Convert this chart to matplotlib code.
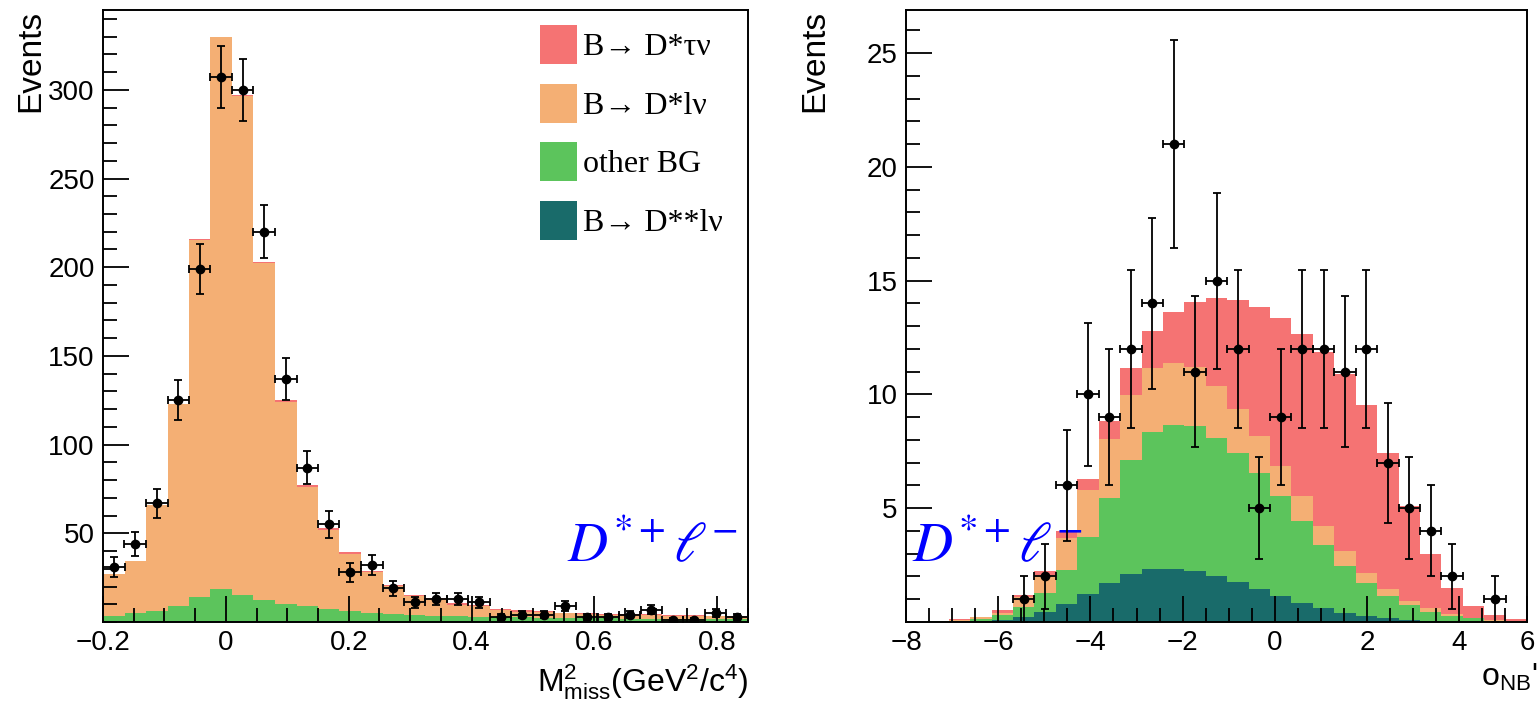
import numpy as np
import matplotlib
matplotlib.use("Agg")
import matplotlib.pyplot as plt
from matplotlib.patches import Patch
from matplotlib.ticker import MultipleLocator, FixedLocator, FuncFormatter

plt.rcParams["font.family"] = ["Liberation Sans", "DejaVu Sans"]
plt.rcParams["mathtext.fontset"] = "custom"
plt.rcParams["mathtext.rm"] = "Liberation Sans"
plt.rcParams["mathtext.it"] = "Liberation Sans:italic"

# ---------------- M^2_miss distribution (30 bins, -0.2 .. 0.85) ----------------
mm2_lo, mm2_hi, mm2_nbins = -0.2, 0.85, 30
mm2_data = [31, 44, 67, 125, 199, 307, 300, 220, 137, 87, 55, 28, 32, 19, 11,
            13, 13, 11, 3, 4, 4, 9, 3, 3, 4, 7, 1, 1, 5, 3]
mm2_dss = [0.3, 0.3, 0.4, 0.5, 0.6, 0.7, 0.7, 0.7, 0.7, 0.6, 0.6, 0.5, 0.5, 0.5, 0.4,
           0.4, 0.4, 0.4, 0.3, 0.3, 0.3, 0.3, 0.3, 0.3, 0.3, 0.3, 0.2, 0.2, 0.2, 0.2]
mm2_other = [3.1, 4.6, 5.8, 8.5, 13.4, 18.0, 14.3, 11.7, 9.5, 8.3, 6.7, 5.7, 4.4, 4.0, 3.4,
             3.0, 2.8, 2.6, 2.5, 2.3, 2.1, 1.9, 1.8, 1.7, 1.6, 1.5, 1.5, 1.4, 1.3, 1.3]
mm2_dslnu = [23.4, 29.4, 59.5, 113.7, 201.6, 310.8, 281.4, 189.9, 113.9, 67.1, 44.7, 32.3,
             23.2, 15.6, 10.7, 9.3, 6.6, 6.1, 4.1, 3.3, 3.0, 2.6, 2.4, 2.2, 2.1, 2.1, 1.9,
             1.8, 1.7, 1.5]
mm2_dstau = [0.2, 0.2, 0.3, 0.3, 0.4, 0.5, 0.6, 0.7, 0.9, 1.0, 1.0, 1.0, 0.9, 0.9, 0.8,
             0.8, 0.7, 0.7, 0.6, 0.6, 0.6, 0.5, 0.5, 0.5, 0.5, 0.4, 0.4, 0.4, 0.4, 0.4]

# ---------------- o_NB' distribution (29 bins) ----------------
onb_lo, onb_hi, onb_nbins = -8.0, 5.47, 29
onb_data = [0, 0, 0, 0, 0, 1, 2, 6, 10, 9, 12, 14, 21, 11, 15, 12, 5, 9, 12, 12,
            11, 12, 7, 5, 4, 2, 0, 1, 0]
onb_dss = [0.00, 0.02, 0.04, 0.06, 0.10, 0.24, 0.45, 0.79, 1.23, 1.70, 2.11, 2.33, 2.33,
           2.25, 2.03, 1.75, 1.44, 1.15, 0.85, 0.60, 0.41, 0.28, 0.16, 0.08, 0.04, 0.02,
           0.01, 0.00, 0.00]
onb_other = [0.00, 0.01, 0.02, 0.09, 0.20, 0.41, 0.84, 1.50, 2.50, 3.75, 5.03, 6.01, 6.35,
             6.35, 6.06, 5.68, 5.11, 4.37, 3.61, 2.79, 2.07, 1.45, 0.99, 0.67, 0.41, 0.26,
             0.15, 0.06, 0.02]
onb_dslnu = [0.00, 0.02, 0.04, 0.05, 0.10, 0.47, 0.78, 1.40, 2.06, 2.61, 2.85, 2.81, 2.69,
             2.62, 2.28, 1.95, 1.64, 1.35, 1.06, 0.84, 0.62, 0.44, 0.30, 0.19, 0.15, 0.07,
             0.03, 0.02, 0.01]
onb_dstau = [0.01, 0.01, 0.02, 0.04, 0.13, 0.05, 0.19, 0.31, 0.50, 0.79, 1.16, 1.64, 2.27,
             2.85, 3.86, 4.76, 5.66, 6.48, 7.15, 7.63, 7.81, 7.39, 5.98, 4.14, 2.38, 1.16,
             0.51, 0.23, 0.09]
onb_ticks = [-8, -6, -4, -2, 0, 2, 4]
onb_end_label = "6"

component_labels = ["B\u2192 D*\u03c4\u03bd", "B\u2192 D*l\u03bd", "other BG", "B\u2192 D**l\u03bd"]
component_colors = ["#F57373", "#F4AF74", "#5CC45C", "#196B6A"]  # tau, l nu, other, D**

W, H = 1538, 709
fig = plt.figure(figsize=(W / 100, H / 100), dpi=100)
ax1 = fig.add_axes([103 / W, (H - 622) / H, 645 / W, 612 / H])
ax2 = fig.add_axes([906 / W, (H - 622) / H, 621 / W, 612 / H])


def draw_panel(ax, lo, hi, nbins, data, layers):
    edges = np.linspace(lo, hi, nbins + 1)
    centers = 0.5 * (edges[1:] + edges[:-1])
    half = 0.5 * (edges[1] - edges[0])
    base = np.zeros(nbins)
    # stack from the bottom: D**, other, D*l nu, D*tau nu
    for vals, col in layers:
        top = base + np.asarray(vals, float)
        ax.stairs(top, edges, baseline=base, fill=True, color=col, lw=0)
        base = top
    d = np.asarray(data, float)
    m = d > 0
    ax.errorbar(centers[m], d[m], xerr=half, yerr=np.sqrt(d[m]), fmt="o",
                color="black", ms=6, elinewidth=1.3, capsize=3, capthick=1.3,
                zorder=5)
    ax.set_xlim(lo, hi)


draw_panel(ax1, mm2_lo, mm2_hi, mm2_nbins, mm2_data,
           [(mm2_dss, component_colors[3]), (mm2_other, component_colors[2]),
            (mm2_dslnu, component_colors[1]), (mm2_dstau, component_colors[0])])
draw_panel(ax2, onb_lo, onb_hi, onb_nbins, onb_data,
           [(onb_dss, component_colors[3]), (onb_other, component_colors[2]),
            (onb_dslnu, component_colors[1]), (onb_dstau, component_colors[0])])

ax1.set_ylim(0, 345)
ax2.set_ylim(0, 26.9)


def num_fmt(v, pos):
    s = f"{v:g}"
    return s.replace("-", "\u2212")


for ax in (ax1, ax2):
    for sp in ax.spines.values():
        sp.set_linewidth(1.4)
    ax.tick_params(which="both", direction="in", top=False, right=False,
                   labelsize=20, width=1.3, pad=6)
    ax.tick_params(which="major", length=19)
    ax.tick_params(which="minor", length=10)
    ax.xaxis.set_major_formatter(FuncFormatter(num_fmt))

ax1.xaxis.set_major_locator(MultipleLocator(0.2))
ax1.xaxis.set_minor_locator(MultipleLocator(0.05))
ax1.yaxis.set_major_locator(FixedLocator([50, 100, 150, 200, 250, 300]))
ax1.yaxis.set_minor_locator(MultipleLocator(10))


# the o_NB' axis carries its last label at the right end of the frame
def onb_fmt(v, pos):
    if np.isclose(v, onb_hi):
        return onb_end_label
    return num_fmt(v, pos)


ax2.xaxis.set_major_locator(FixedLocator(onb_ticks + [onb_hi]))
ax2.xaxis.set_major_formatter(FuncFormatter(onb_fmt))
ax2.xaxis.set_minor_locator(MultipleLocator(0.5))
ax2.yaxis.set_major_locator(FixedLocator([5, 10, 15, 20, 25]))
ax2.yaxis.set_minor_locator(MultipleLocator(1))

ax1.set_ylabel("Events", fontsize=24, loc="top")
ax1.yaxis.set_label_coords(-0.088, 1.0)
ax2.set_ylabel("Events", fontsize=24, loc="top")
ax2.yaxis.set_label_coords(-0.122, 1.0)

ax1.set_xlabel(r"$\mathrm{M^{2}_{miss}(GeV^{2}/c^{4})}$", fontsize=23, loc="right")
ax1.xaxis.set_label_coords(1.0, -0.066)
ax2.set_xlabel(r"$\mathrm{o_{NB}}$'", fontsize=23, loc="right")
ax2.xaxis.set_label_coords(1.016, -0.066)
for ax in (ax1, ax2):
    ax.xaxis.label.set_verticalalignment("top")

chan = r"$D^{*+}\ell^{-}$"
ax1.text(0.72, 0.10, chan, transform=ax1.transAxes, color="#0000FF", fontsize=40,
         math_fontfamily="stix", ha="left", va="baseline")
ax2.text(0.01, 0.10, chan, transform=ax2.transAxes, color="#0000FF", fontsize=40,
         math_fontfamily="stix", ha="left", va="baseline")

handles = [Patch(facecolor=c, edgecolor="none") for c in component_colors]
ax1.legend(handles, component_labels, loc="upper left",
           bbox_to_anchor=((527 - 103) / 645, (622 - 12) / 612), frameon=False,
           prop={"family": "Liberation Serif", "size": 23},
           handlelength=1.16, handleheight=1.5, handletextpad=0.2, labelspacing=0.62,
           borderaxespad=0)

fig.savefig("out.png", dpi=100)
